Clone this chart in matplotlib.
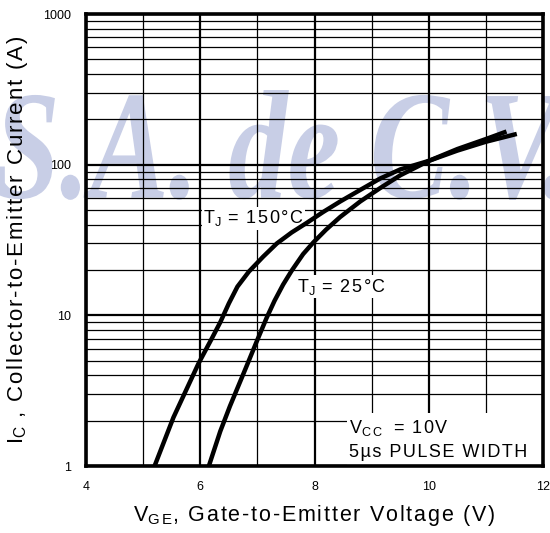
import matplotlib
matplotlib.use("Agg")
import matplotlib.pyplot as plt
from matplotlib.ticker import FixedLocator, NullFormatter
from matplotlib.textpath import TextPath
from matplotlib.patches import PathPatch, Rectangle
from matplotlib.font_manager import FontProperties
from matplotlib.transforms import Affine2D

plt.rcParams["font.family"] = ["Liberation Sans", "DejaVu Sans"]

# T_J = 150 C curve (V_GE in V, I_C in A)
vge_150 = [5.2, 5.53, 5.97, 6.2, 6.35, 6.5, 6.65, 6.85, 7.1, 7.34, 7.6, 7.86,
           8.15, 8.45, 8.8, 9.15, 9.5, 10.0, 10.5, 11.0, 11.36]
ic_150 = [1.0, 2.1, 4.8, 7.0, 9.0, 12.0, 15.5, 19.5, 24.5, 30.0, 35.5, 41.0,
          48.5, 57.0, 68.0, 81.0, 93.0, 106.0, 127.0, 148.0, 166.0]

# T_J = 25 C curve
vge_25 = [6.15, 6.35, 6.52, 6.8, 6.98, 7.16, 7.3, 7.45, 7.6, 7.8, 7.98,
          8.2, 8.45, 8.8, 9.15, 9.5, 10.0, 10.5, 11.0, 11.54]
ic_25 = [1.0, 1.7, 2.5, 4.5, 6.6, 9.6, 12.5, 16.0, 19.8, 25.5, 30.5,
         37.0, 45.0, 57.0, 70.0, 85.0, 106.0, 124.0, 142.0, 160.0]

x_ticks = [4, 6, 8, 10, 12]
y_ticks = [1, 10, 100, 1000]
y_tick_labels = ["1", "10", "100", "1000"]


def spaced(s):
    # the original artwork uses loose letter spacing
    return "\u200a".join(s)


fig = plt.figure(figsize=(5.5, 5.33), dpi=100)
fig.patch.set_facecolor("white")

# faint watermark behind the plot, squeezed to the box it fills
wm = TextPath((0, 0), "S.A. de C.V.", size=100,
              prop=FontProperties(family="Liberation Serif", style="italic",
                                  weight="bold"))
bb = wm.get_extents()
x0, x1, y0, y1 = -4, 566, 333, 443
tr = (Affine2D().translate(-bb.x0, -bb.y0)
      .scale((x1 - x0) / bb.width, (y1 - y0) / bb.height)
      .translate(x0, y0))
fig.add_artist(PathPatch(wm, transform=tr, facecolor="#c8cee6",
                         edgecolor="none", zorder=-5))

ax = fig.add_axes([0.1564, 0.1257, 0.831, 0.848])
ax.patch.set_alpha(0)
ax.set_yscale("log")
ax.set_xlim(4, 12)
ax.set_ylim(1, 1000)

ax.xaxis.set_major_locator(FixedLocator(x_ticks))
ax.xaxis.set_minor_locator(FixedLocator([5, 7, 9, 11]))
ax.set_yticks(y_ticks)
ax.set_yticklabels(y_tick_labels)
ax.yaxis.set_minor_locator(FixedLocator(
    [m * 10 ** d for d in range(3) for m in range(2, 10)]))
ax.yaxis.set_minor_formatter(NullFormatter())
ax.tick_params(which="both", length=0, labelsize=9, pad=11, colors="black")

ax.grid(which="major", color="black", lw=1.6)
ax.grid(which="minor", color="black", lw=0.9)
ax.set_axisbelow(True)
for s in ax.spines.values():
    s.set_linewidth(2.6)
    s.set_zorder(5)

ax.plot(vge_150, ic_150, color="black", lw=3.2, solid_capstyle="butt",
        solid_joinstyle="round", zorder=4)
ax.plot(vge_25, ic_25, color="black", lw=3.2, solid_capstyle="butt",
        solid_joinstyle="round", zorder=4)

box = dict(facecolor="white", edgecolor="none", pad=1.0)
ax.text(6.05, 44, "T$_\\mathregular{J}$" + spaced(" = 150°C"), fontsize=13,
        va="center", ha="left", bbox=box, zorder=3)
ax.text(7.7, 15.5, "T$_\\mathregular{J}$" + spaced(" = 25°C"), fontsize=13,
        va="center", ha="left", bbox=box, zorder=3)

# white panel behind the test-condition note
ax.add_patch(Rectangle((0.571, 0), 0.43, 0.117, transform=ax.transAxes,
                       facecolor="white", edgecolor="none", zorder=1))
ax.text(0.575, 0.073, "V$_\\mathregular{C\\,C}$ " + spaced(" = 10V"),
        fontsize=13, va="baseline", ha="left", transform=ax.transAxes,
        zorder=3)
ax.text(0.575, 0.02, spaced("5µs PULSE WIDTH"), fontsize=13,
        va="baseline", ha="left", transform=ax.transAxes, zorder=3)

ax.set_xlabel("V$_\\mathregular{G\\,E}$" + spaced(", Gate-to-Emitter Voltage (V)"),
              fontsize=15.5, labelpad=7)
ax.set_ylabel("I$_\\mathregular{C}$" + spaced(" , Collector-to-Emitter Current (A)"),
              fontsize=16, labelpad=9)

fig.savefig("out.png", dpi=100)
